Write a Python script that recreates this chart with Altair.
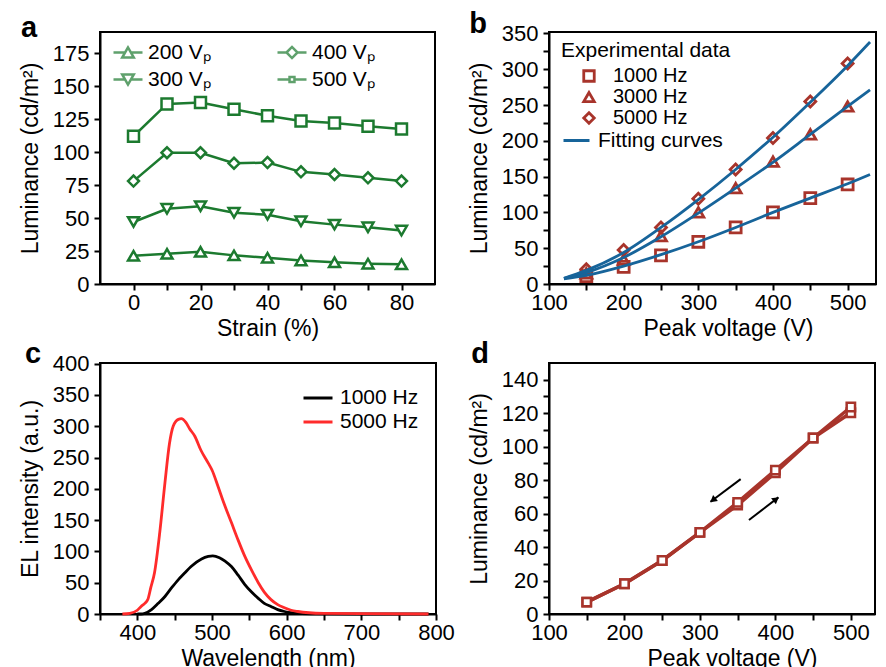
import altair as alt
import pandas as pd

FONT = "Liberation Sans"
GREEN = "#1c7a2f"
RED = "#a8342b"
BLUE = "#17649a"
C_RED = "#ff2b2b"

panel_labels = ["a", "b", "c", "d"]

# ---------------- panel a : luminance vs strain ----------------
strain = [0, 10, 20, 30, 40, 50, 60, 70, 80]
a_series = ["200 Vₚ", "300 Vₚ", "400 Vₚ", "500 Vₚ"]
a_200 = [21.4, 22.9, 24.4, 21.7, 19.9, 17.9, 16.4, 15.4, 14.9]
a_300 = [47.0, 57.0, 59.0, 54.0, 52.5, 47.5, 45.0, 43.0, 40.5]
a_400 = [78.0, 99.5, 99.5, 91.5, 92.0, 85.0, 83.0, 80.5, 78.0]
a_500 = [112.0, 136.5, 137.5, 132.5, 127.5, 123.5, 122.0, 119.5, 117.5]
a_shapes = ["triangle-up", "triangle-down", "diamond", "square"]
a_legend_paths = [
    "M-1,0L-0.2,0M0.2,0L1,0M0,-0.35L-0.4,0.35L0.4,0.35Z",
    "M-1,0L-0.2,0M0.2,0L1,0M0,0.35L-0.4,-0.35L0.4,-0.35Z",
    "M-1,0L-0.38,0M0.38,0L1,0M-0.38,0L0,-0.38L0.38,0L0,0.38Z",
    "M-1,0L-0.17,0M0.17,0L1,0M-0.17,-0.17L0.17,-0.17L0.17,0.17L-0.17,0.17Z",
]

# ---------------- panel b : luminance vs peak voltage ----------------
b_freqs = ["1000 Hz", "3000 Hz", "5000 Hz"]
b_volt = [150, 200, 250, 300, 350, 400, 450, 500]
b_1000 = [11, 24, 40, 59, 79, 100, 120, 139]
b_3000 = [15, 34, 67, 100, 134, 171, 209, 248]
b_5000 = [20.5, 47.5, 79, 119, 160, 204, 255, 308]
b_shapes = ["square", "triangle-up", "diamond"]
fit_volt = [120, 150, 200, 250, 300, 350, 400, 450, 500, 530]
fit_1000 = [7, 12, 25, 41, 59, 79, 100, 120, 140, 153]
fit_3000 = [8, 16, 37, 66, 99, 134, 170, 209, 248, 271]
fit_5000 = [8, 19, 44, 79, 118, 160, 205, 254, 305, 338]
fit_label = "Fitting curves"

# ---------------- panel c : EL spectra ----------------
c_series = ["1000 Hz", "5000 Hz"]
c_wl_1000 = [400, 405, 410, 419, 428, 437, 446, 455, 463, 472, 486, 495, 501, 510,
             518, 526, 535, 544, 553, 562, 570, 579, 588, 597, 606, 615, 640, 700, 790]
c_int_1000 = [0, 0, 1, 7, 17, 28, 42, 55, 65, 76, 88, 92, 93, 90,
              84, 76, 62, 47, 35, 25, 17, 12, 7, 4, 2, 1, 0.3, 0, 0]
c_wl_5000 = [380, 390, 400, 405, 410, 414, 418, 423, 430, 437, 443, 448, 455, 459,
             465, 470, 477, 485, 495, 500, 508, 515, 526, 535, 544, 553, 562, 570,
             579, 588, 597, 606, 615, 630, 650, 700, 790]
c_int_5000 = [0, 1, 6, 12, 17, 23, 42, 66, 130, 210, 272, 300, 311, 312,
              306, 296, 284, 262, 241, 230, 204, 180, 146, 118, 92, 70, 50, 35,
              23, 15, 10, 6, 4, 2, 1, 0.5, 0]

# ---------------- panel d : hysteresis ----------------
d_sweeps = ["up", "down"]
d_volt = [150, 200, 250, 300, 350, 400, 450, 500]
d_up = [7.1, 18.1, 32.0, 48.8, 65.1, 84.4, 105.2, 120.3]
d_down = [7.1, 18.1, 32.0, 48.8, 66.7, 86.0, 105.2, 123.7]
arrow_x = [354, 365]
arrow_y = [80.6, 56.2]
arrow_x2 = [314, 404]
arrow_y2 = [67.1, 69.7]
head_x = [318.3, 399.8]
head_y = [68.5, 68.2]
head_angle = [232, 52]

# ---------------- data frames ----------------
df_a = pd.DataFrame({
    "strain": strain * 4,
    "lum": a_200 + a_300 + a_400 + a_500,
    "series": sum([[s] * len(strain) for s in a_series], []),
})
df_b = pd.DataFrame({
    "volt": b_volt * 3,
    "lum": b_1000 + b_3000 + b_5000,
    "freq": sum([[f] * len(b_volt) for f in b_freqs], []),
})
df_fit = pd.DataFrame({
    "volt": fit_volt * 3,
    "lum": fit_1000 + fit_3000 + fit_5000,
    "freq": sum([[f] * len(fit_volt) for f in b_freqs], []),
    "leg": [fit_label] * (3 * len(fit_volt)),
})
df_c = pd.DataFrame({
    "wl": c_wl_1000 + c_wl_5000,
    "inten": c_int_1000 + c_int_5000,
    "series": [c_series[0]] * len(c_wl_1000) + [c_series[1]] * len(c_wl_5000),
})
df_d = pd.DataFrame({
    "volt": d_volt * 2,
    "lum": d_up + d_down,
    "sweep": [d_sweeps[0]] * len(d_volt) + [d_sweeps[1]] * len(d_volt),
})
df_arrow = pd.DataFrame({"volt": arrow_x, "lum": arrow_y, "volt2": arrow_x2, "lum2": arrow_y2})
df_head = pd.DataFrame({"volt": head_x, "lum": head_y, "ang": head_angle})


def label_layer(i, dx, dy):
    return alt.Chart(pd.DataFrame({"lab": [panel_labels[i]]})).mark_text(
        font=FONT, fontSize=29, fontWeight="bold", align="center",
        baseline="alphabetic", color="black"
    ).encode(text="lab:N", x=alt.value(dx), y=alt.value(dy))


def minor_axis(values, major, title, **kw):
    return alt.Axis(values=values, title=title, labelOverlap=False, labelFlush=False,
                    labelExpr=f"datum.value % {major} == 0 ? datum.label : ''", **kw)


def plain_axis(values, title, **kw):
    return alt.Axis(values=values, title=title, labelOverlap=False, labelFlush=False, **kw)


# ---------------- panel a chart ----------------
xa = alt.X("strain:Q", scale=alt.Scale(domain=[-10, 90], nice=False),
           axis=minor_axis(list(range(0, 81, 10)), 20, "Strain (%)"))
ya = alt.Y("lum:Q", scale=alt.Scale(domain=[0, 191], nice=False),
           axis=plain_axis(list(range(0, 176, 25)), "Luminance (cd/m²)"))
base_a = alt.Chart(df_a)
a_lines = base_a.mark_line(color=GREEN, strokeWidth=2.5).encode(x=xa, y=ya, detail="series:N")
a_points = base_a.mark_point(filled=True, fill="white", stroke=GREEN, strokeWidth=2.5,
                             opacity=1, size=120).encode(
    x=xa, y=ya,
    shape=alt.Shape("series:N", scale=alt.Scale(domain=a_series, range=a_shapes), legend=None),
)
a_leg = base_a.transform_filter("false").mark_point(
    filled=False, color=GREEN, strokeWidth=2.5, size=841
).encode(
    x=xa, y=ya,
    shape=alt.Shape("series:N",
                    scale=alt.Scale(domain=a_series, range=a_legend_paths),
                    legend=alt.Legend(title=None, orient="none", legendX=12, legendY=7,
                                      columns=2, columnPadding=65, rowPadding=0,
                                      clipHeight=27,
                                      symbolSize=841, symbolStrokeWidth=2.5,
                                      symbolStrokeColor=GREEN, labelOffset=4,
                                      labelFontSize=21, padding=0)),
)
panel_a = alt.layer(a_lines, a_points, a_leg, label_layer(0, -71, 5)).resolve_scale(
    shape="independent").properties(width=335, height=252)

# ---------------- panel b chart ----------------
xb = alt.X("volt:Q", scale=alt.Scale(domain=[100, 538], nice=False),
           axis=minor_axis(list(range(100, 501, 50)), 100, "Peak voltage (V)", titleX=179))
yb = alt.Y("lum:Q", scale=alt.Scale(domain=[0, 352], nice=False),
           axis=minor_axis(list(range(0, 351, 25)), 50, "Luminance (cd/m²)"))
b_points = alt.Chart(df_b).mark_point(filled=False, color=RED, strokeWidth=2.8,
                                      opacity=1, size=120).encode(
    x=xb, y=yb,
    shape=alt.Shape("freq:N", scale=alt.Scale(domain=b_freqs, range=b_shapes),
                    legend=alt.Legend(title="Experimental data", orient="none",
                                      legendX=12, legendY=8, titleFontSize=21,
                                      titleFontWeight="normal", titlePadding=5,
                                      symbolOffset=18, labelOffset=14, rowPadding=-4,
                                      symbolSize=110, symbolStrokeWidth=2.8,
                                      symbolStrokeColor=RED, labelFontSize=20, padding=0)),
)
b_lines = alt.Chart(df_fit).mark_line(strokeWidth=2.8, interpolate="monotone").encode(
    x=xb, y=yb, detail="freq:N",
    color=alt.Color("leg:N", scale=alt.Scale(domain=[fit_label], range=[BLUE]),
                    legend=alt.Legend(title=None, orient="none", legendX=13, legendY=94,
                                      symbolType="stroke", symbolSize=676,
                                      symbolStrokeWidth=3, labelOffset=7,
                                      labelFontSize=21, padding=0)),
)
panel_b = alt.layer(b_points, b_lines, label_layer(1, -71, 1)).properties(width=327, height=252)

# ---------------- panel c chart ----------------
xc = alt.X("wl:Q", scale=alt.Scale(domain=[350, 800], nice=False),
           axis=minor_axis(list(range(350, 801, 50)), 100, "Wavelength (nm)"))
yc = alt.Y("inten:Q", scale=alt.Scale(domain=[0, 401], nice=False),
           axis=plain_axis(list(range(0, 401, 50)), "EL intensity (a.u.)"))
c_lines = alt.Chart(df_c).mark_line(strokeWidth=2.8, interpolate="monotone").encode(
    x=xc, y=yc,
    color=alt.Color("series:N", scale=alt.Scale(domain=c_series, range=["black", C_RED]),
                    legend=alt.Legend(title=None, orient="none", legendX=202, legendY=23,
                                      symbolType="stroke", symbolSize=841,
                                      symbolStrokeWidth=3, labelOffset=6, rowPadding=0,
                                      clipHeight=24,
                                      labelFontSize=21, padding=0)),
)
panel_c = alt.layer(c_lines, label_layer(2, -67, 0)).properties(width=336, height=251)

# ---------------- panel d chart ----------------
xd = alt.X("volt:Q", scale=alt.Scale(domain=[100, 532], nice=False),
           axis=minor_axis(list(range(100, 501, 50)), 100, "Peak voltage (V)", titleX=183))
yd = alt.Y("lum:Q", scale=alt.Scale(domain=[0, 150], nice=False),
           axis=minor_axis(list(range(0, 141, 10)), 20, "Luminance (cd/m²)"))
d_lines = alt.Chart(df_d).mark_line(color=RED, strokeWidth=3.5).encode(
    x=xd, y=yd, detail="sweep:N")
d_points = alt.Chart(df_d).mark_point(shape="square", filled=True, fill="white", stroke=RED,
                                      strokeWidth=2.5, opacity=1, size=70).encode(x=xd, y=yd)
d_arrows = alt.Chart(df_arrow).mark_rule(color="black", strokeWidth=2).encode(
    x=xd, y=yd, x2="volt2:Q", y2="lum2:Q")
d_heads = alt.Chart(df_head).mark_point(shape="triangle", filled=True, color="black",
                                        opacity=1, size=60).encode(
    x=xd, y=yd, angle=alt.Angle("ang:Q", scale=None))
panel_d = alt.layer(d_lines, d_points, d_arrows, d_heads, label_layer(3, -69, 0)).properties(
    width=326, height=251)

chart = alt.concat(
    panel_a, panel_b, panel_c, panel_d,
    columns=2, spacing={"row": 79, "column": 113}, bounds="flush", align="none",
).resolve_scale(
    color="independent", shape="independent",
).resolve_legend(
    color="independent", shape="independent",
).properties(
    padding={"left": 10, "top": 1, "right": 0, "bottom": 0},
    background="white",
).configure(font=FONT).configure_view(
    stroke="black", strokeWidth=2,
).configure_axis(
    domainColor="black", domainWidth=2, tickColor="black", tickWidth=2, tickSize=6,
    labelFont=FONT, labelFontSize=22, labelColor="black",
    titleFont=FONT, titleFontSize=23, titleFontWeight="normal", titleColor="black",
    grid=False, labelFlush=False, labelOverlap=False,
).configure_axisX(
    labelPadding=2, titlePadding=4,
).configure_axisY(
    labelPadding=5, titlePadding=10,
).configure_legend(
    labelFont=FONT, labelColor="black", titleFont=FONT, titleColor="black",
)

chart.save("out.html", embed_options={"renderer": "svg", "actions": False})
